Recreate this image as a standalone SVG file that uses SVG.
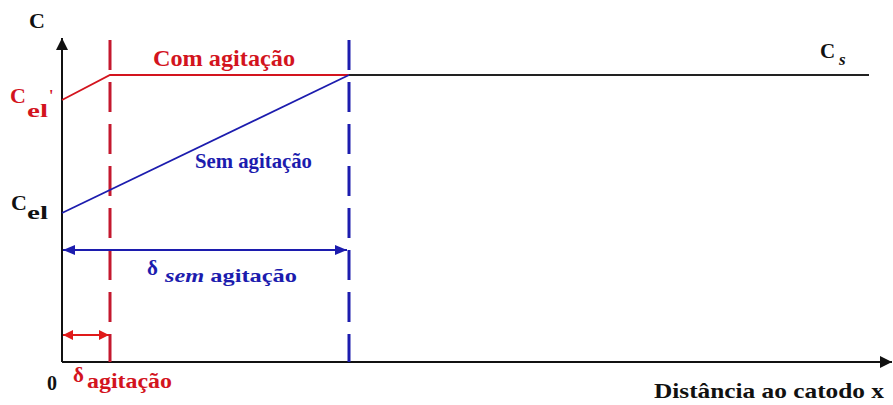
<svg xmlns="http://www.w3.org/2000/svg" width="893" height="405" viewBox="0 0 893 405">
<style>
.t{font-family:"Liberation Serif","Times New Roman",serif;font-weight:bold}
.red{fill:#d3141e}
.blue{fill:#1c1cae}
.blk{fill:#111}
.axis{stroke:#111;stroke-width:2;fill:none}
.rdash{stroke:#c4182e;stroke-width:3;stroke-dasharray:30 12;fill:none}
.bdash{stroke:#1c1cae;stroke-width:3;stroke-dasharray:30 12;fill:none}
</style>
<defs>
<marker id="ab" viewBox="0 0 12 12" refX="12" refY="6" markerWidth="12" markerHeight="12" markerUnits="userSpaceOnUse" orient="auto"><path d="M0,0 L12,6 L0,12 Z" fill="#111"/></marker>
<marker id="ar" viewBox="0 0 10 10" refX="10" refY="5" markerWidth="10" markerHeight="10" markerUnits="userSpaceOnUse" orient="auto-start-reverse"><path d="M0,0 L10,5 L0,10 Z" fill="#e01a1a"/></marker>
<marker id="abl" viewBox="0 0 12 10" refX="12" refY="5" markerWidth="12" markerHeight="10" markerUnits="userSpaceOnUse" orient="auto-start-reverse"><path d="M0,0 L12,5 L0,10 Z" fill="#1c1cae"/></marker>
</defs>
<rect width="893" height="405" fill="#fff"/>
<g id="axes">
<line class="axis" x1="62" y1="362" x2="62" y2="38" marker-end="url(#ab)"/>
<line class="axis" x1="62" y1="362" x2="892" y2="362" marker-end="url(#ab)"/>
</g>
<g id="connectors">
<line class="rdash" x1="110" y1="40" x2="110" y2="362"/>
<line class="bdash" x1="349" y1="40" x2="349" y2="362"/>
<polyline points="62,100 110,75 349,75" fill="none" stroke="#d3141e" stroke-width="1.8"/>
<line x1="349" y1="75" x2="869" y2="75" stroke="#222" stroke-width="1.8"/>
<line x1="62" y1="213" x2="349" y2="75" stroke="#1c1cae" stroke-width="1.8"/>
<line x1="63" y1="250" x2="347" y2="250" stroke="#1c1cae" stroke-width="2" marker-start="url(#abl)" marker-end="url(#abl)"/>
<line x1="63" y1="335" x2="109" y2="335" stroke="#e01a1a" stroke-width="2" marker-start="url(#ar)" marker-end="url(#ar)"/>
</g>
<g id="label-C"><text class="t blk" x="29" y="28" font-size="22">C</text></g>
<g id="label-Cel-prime"><text class="t red" x="10" y="103" font-size="22">C</text><text class="t red" x="27" y="117" font-size="19" textLength="21" lengthAdjust="spacingAndGlyphs">el</text><text class="t red" x="49" y="101" font-size="16">'</text></g>
<g id="label-Cel"><text class="t blk" x="11" y="210" font-size="22">C</text><text class="t blk" x="27" y="219" font-size="19" textLength="21" lengthAdjust="spacingAndGlyphs">el</text></g>
<g id="label-0"><text class="t blk" x="47" y="390" font-size="20">0</text></g>
<g id="label-delta-agit"><text class="t red" x="73" y="382" font-size="21">δ</text><text class="t red" x="87" y="388" font-size="20" textLength="85" lengthAdjust="spacingAndGlyphs">agitação</text></g>
<g id="label-com"><text class="t red" x="153" y="66" font-size="24" textLength="142" lengthAdjust="spacingAndGlyphs">Com agitação</text></g>
<g id="label-sem"><text class="t blue" x="195" y="168" font-size="22" textLength="117" lengthAdjust="spacingAndGlyphs">Sem agitação</text></g>
<g id="label-delta-sem"><text class="t blue" x="147" y="275" font-size="21">δ</text><text class="t blue" x="165" y="282" font-size="19" textLength="132" lengthAdjust="spacingAndGlyphs"><tspan font-style="italic">sem</tspan> agitação</text></g>
<g id="label-Cs"><text class="t blk" x="820" y="58" font-size="21">C</text><text class="t blk" x="839" y="65" font-size="17" font-style="italic">s</text></g>
<g id="label-x"><text class="t blk" x="654" y="398" font-size="21" textLength="230" lengthAdjust="spacingAndGlyphs">Distância ao catodo x</text></g>
</svg>
